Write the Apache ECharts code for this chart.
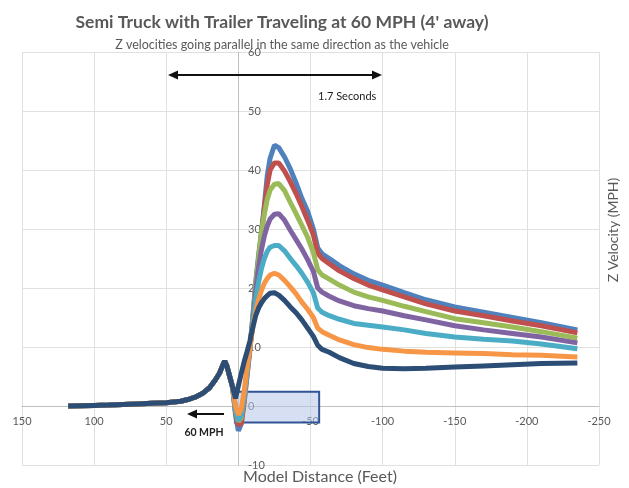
<!DOCTYPE html>
<html>
<head>
<meta charset="utf-8">
<script src="https://cdn.jsdelivr.net/npm/echarts@6/dist/echarts.min.js"></script>
<style>
  html, body { margin: 0; padding: 0; background: #fff; }
  #chart { width: 629px; height: 488px; }
</style>
</head>
<body>
<div id="chart"></div>
<script>
// approach: every run is the same before the truck reaches the sensor
var approachFeet = [118, 110, 100, 90, 80, 70, 60, 50, 40, 35, 30, 25, 20, 16, 13, 11, 9.5, 8, 6, 4];
var approachMph = [0, 0.05, 0.1, 0.15, 0.25, 0.35, 0.45, 0.55, 0.8, 1.1, 1.5, 2.1, 3.1, 4.4, 5.6, 6.8, 7.6, 6.8, 5.0, 3.2];

// passing and wake, one array per run
var passFeet = [2, 0, -2, -4, -6, -8, -10, -12, -14, -16, -18, -20, -22, -25, -28, -32, -36, -40, -44, -48, -52, -55, -58, -63, -70, -80, -90, -100, -115, -130, -150, -170, -190, -210, -235];
var run1 = [-1.5, -4.2, -3.0, 1.5, 6, 10, 15, 21, 25.5, 29.5, 34, 39, 42, 44.2, 43.8, 42.2, 40.2, 37.8, 35.2, 33, 30, 26.8, 25.8, 25.0, 23.8, 22.4, 21.3, 20.5, 19.2, 18.0, 16.8, 15.9, 15.0, 14.1, 12.9];
var run2 = [-1.0, -3.2, -3.0, 0.5, 5, 9.5, 14.5, 20, 24.5, 29, 33.5, 37.5, 40, 41.2, 41.2, 39.8, 38, 36, 33.8, 31.5, 29, 25.9, 25.0, 24.1, 22.9, 21.6, 20.5, 19.7, 18.5, 17.3, 16.1, 15.3, 14.4, 13.6, 12.4];
var run3 = [-0.8, -2.6, -2.0, 1.2, 5.5, 10, 15, 20.5, 25, 29.5, 32.5, 35, 36.6, 37.6, 37.7, 36.5, 34.5, 32.6, 30.6, 28.6, 26, 23.1, 22.2, 21.5, 20.5, 19.3, 18.5, 17.9, 16.9, 16.0, 14.8, 14.1, 13.4, 12.6, 11.5];
var run4 = [-0.5, -2.2, -1.5, 1.5, 5.5, 10, 14.5, 19.5, 23.5, 26.5, 28.8, 30.5, 31.7, 32.5, 32.6, 31.5, 29.8, 28.2, 26.6, 24.8, 22.8, 20, 19.3, 18.6, 17.8, 17.0, 16.5, 16.1, 15.3, 14.6, 13.6, 12.9, 12.3, 11.7, 10.7];
var run5 = [-0.5, -2.5, -1.5, 1.5, 5.5, 10, 14, 18, 21, 23.3, 25, 26.2, 26.9, 27.2, 27.2, 26.3, 25, 23.8, 22.5, 21, 19.2, 16.6, 15.9, 15.3, 14.7, 14.0, 13.7, 13.4, 12.9, 12.3, 11.7, 11.3, 11.0, 10.5, 9.7];
var run6 = [0, -1.5, -0.5, 2.5, 6.5, 10, 13.3, 16, 18, 19.6, 20.8, 21.6, 22.2, 22.5, 22.2, 21.3, 20.2, 19.0, 17.6, 16.4, 15, 13.2, 12.6, 12.0, 11.2, 10.4, 9.9, 9.6, 9.3, 9.1, 9.0, 8.9, 8.7, 8.6, 8.3];
var run7 = [1.3, 3.4, 5.5, 7.5, 9.2, 11, 13.3, 15.3, 16.6, 17.5, 18.2, 18.7, 19.1, 19.2, 18.8, 17.9, 16.8, 15.8, 14.6, 13.2, 11.8, 10.3, 9.6, 9.1, 8.2, 7.2, 6.7, 6.4, 6.3, 6.4, 6.6, 6.8, 7.0, 7.2, 7.3];

var runs = [run1, run2, run3, run4, run5, run6, run7];
var colors = ["#4F81BD", "#C0504D", "#9BBB59", "#8064A2", "#4BACC6", "#F79646", "#2C4D75"];

// box drawn round the sensor
var boxFeet = [2.4, -56];
var boxMph = [2.4, -2.8];

var textColor = "#595959";
var font = "Lato";

var chart = echarts.init(document.getElementById("chart"));

var allFeet = approachFeet.concat(passFeet);
var series = runs.map(function (run, i) {
  var y = approachMph.concat(run);
  return {
    type: "line",
    data: allFeet.map(function (x, j) { return [x, y[j]]; }),
    showSymbol: false,
    lineStyle: { color: colors[i], width: 5 },
    itemStyle: { color: colors[i] },
    z: 2 + i,
    animation: false
  };
});

// the shaded box sits above the curves
series.push({
  type: "line",
  data: [],
  z: 20,
  markArea: {
    silent: true,
    itemStyle: {
      color: "rgba(180, 199, 231, 0.55)",
      borderColor: "#2F5597",
      borderWidth: 2
    },
    data: [[{ coord: [boxFeet[0], boxMph[0]] }, { coord: [boxFeet[1], boxMph[1]] }]]
  },
  animation: false
});

var option = {
  animation: false,
  title: [
    {
      text: "Semi Truck with Trailer Traveling at 60 MPH (4' away)",
      left: 277,
      top: 8,
      textAlign: "center",
      textStyle: { fontFamily: font, fontSize: 17.5, fontWeight: "bold", color: textColor }
    },
    {
      text: "Z velocities going parallel in the same direction as the vehicle",
      left: 277,
      top: 33,
      textAlign: "center",
      textStyle: { fontFamily: font, fontSize: 12.5, fontWeight: "normal", color: textColor }
    }
  ],
  grid: { left: 22, right: 30, top: 52, bottom: 23 },
  xAxis: {
    type: "value",
    inverse: true,
    min: -250,
    max: 150,
    interval: 50,
    offset: -59, // sit on y = 0
    axisLine: { onZero: false, lineStyle: { color: "#bfbfbf", width: 1 } },
    axisTick: { show: false },
    axisLabel: { color: textColor, fontFamily: font, fontSize: 11, margin: 10 },
    splitLine: { lineStyle: { color: "#e0e0e0" } }
  },
  yAxis: {
    type: "value",
    position: "right",
    min: -10,
    max: 60,
    interval: 10,
    offset: -361, // sit on x = 0
    axisLine: { show: true, onZero: false, lineStyle: { color: "#bfbfbf", width: 1 } },
    axisTick: { show: false },
    axisLabel: { color: textColor, fontFamily: font, fontSize: 11, margin: 10 },
    splitLine: { lineStyle: { color: "#e0e0e0" } }
  },
  graphic: [
    // 1.7 seconds span
    { type: "line", shape: { x1: 176, y1: 75, x2: 374, y2: 75 }, style: { stroke: "#111", lineWidth: 2 }, z: 30 },
    { type: "polygon", shape: { points: [[168, 75], [178, 70.5], [178, 79.5]] }, style: { fill: "#111" }, z: 30 },
    { type: "polygon", shape: { points: [[382, 75], [372, 70.5], [372, 79.5]] }, style: { fill: "#111" }, z: 30 },
    { type: "text", left: 318, top: 91, style: { text: "1.7 Seconds", fill: "#222", font: "11px Lato" }, z: 30 },
    // direction of travel
    { type: "line", shape: { x1: 196, y1: 414, x2: 224, y2: 414 }, style: { stroke: "#111", lineWidth: 2 }, z: 30 },
    { type: "polygon", shape: { points: [[187, 414], [197, 409.5], [197, 418.5]] }, style: { fill: "#111" }, z: 30 },
    { type: "text", x: 204, y: 433, style: { text: "60 MPH", fill: "#222", font: "bold 10.5px Lato", align: "center", verticalAlign: "middle" }, z: 30 },
    // axis titles
    { type: "text", x: 320, y: 477, style: { text: "Model Distance (Feet)", fill: textColor, font: "16px Lato", align: "center", verticalAlign: "middle" }, z: 30 },
    { type: "text", x: 613, y: 230, rotation: Math.PI / 2, style: { text: "Z Velocity (MPH)", fill: textColor, font: "14px Lato", align: "center", verticalAlign: "middle" }, z: 30 }
  ],
  series: series
};

chart.setOption(option);
window.addEventListener("resize", function () {
  chart.resize();
});
</script>
</body>
</html>
